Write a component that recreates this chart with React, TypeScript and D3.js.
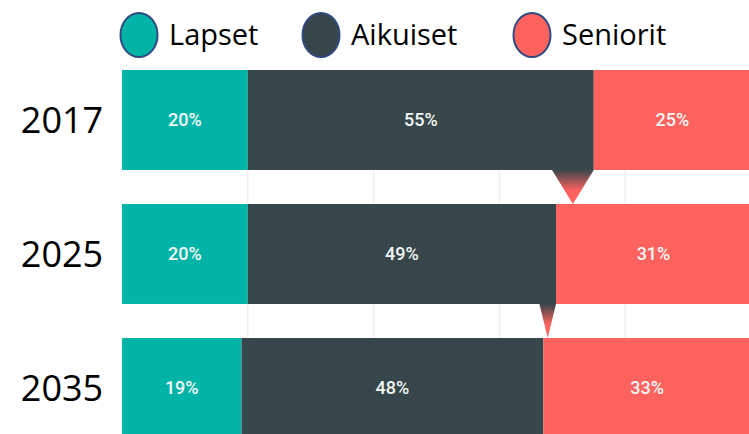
import React from 'react'
import * as d3 from 'd3'

const years = ['2017', '2025', '2035']
const groups = ['Lapset', 'Aikuiset', 'Seniorit']
const lapset = [20, 20, 19]
const aikuiset = [55, 49, 48]
const seniorit = [25, 31, 33]
const gridTicks = [20, 40, 60, 80]
const colors = ['#02b4a7', '#37464a', '#fd625e']

const W = 749
const H = 434

export default function App() {
    const x = d3.scaleLinear().domain([0, 100]).range([122, 751])
    const y = d3
        .scaleBand<string>()
        .domain(years)
        .range([70, 438])
        .paddingInner(0.254)
        .paddingOuter(0)

    const rows = years.map((yr, i) => ({ yr, vals: [lapset[i], aikuiset[i], seniorit[i]] }))
    const stacked = rows.map(r => {
        let acc = 0
        return r.vals.map(v => {
            const s = { x0: acc, x1: acc + v, v }
            acc += v
            return s
        })
    })

    const legendX = [139, 321, 532]

    return (
        <div style={{ position: 'fixed', left: 0, top: 0 }}>
            <svg width={W} height={H} style={{ display: 'block', background: '#fff' }}>
                <defs>
                    <linearGradient id='tri' x1='0' y1='0' x2='0' y2='1'>
                        <stop offset='0' stopColor={colors[1]} />
                        <stop offset='0.6' stopColor={colors[2]} />
                        <stop offset='1' stopColor={colors[2]} />
                    </linearGradient>
                </defs>

                {/* legend */}
                {groups.map((g, i) => (
                    <g key={g}>
                        <ellipse
                            cx={legendX[i]}
                            cy={35}
                            rx={18.5}
                            ry={22}
                            fill={colors[i]}
                            stroke='#2f4a80'
                            strokeWidth={2}
                        />
                        <text
                            x={legendX[i] + 30}
                            y={45}
                            fontFamily="'Open Sans', sans-serif"
                            fontSize={29}
                            fill='#000'
                        >
                            {g}
                        </text>
                    </g>
                ))}

                {/* gridlines */}
                {gridTicks.map(t => (
                    <line
                        key={t}
                        x1={x(t)}
                        x2={x(t)}
                        y1={y.range()[0]}
                        y2={H}
                        stroke='#eeeeee'
                        strokeWidth={1.5}
                    />
                ))}

                {/* bars */}
                {rows.map((r, i) => (
                    <g key={r.yr}>
                        {stacked[i].map((s, j) => (
                            <g key={j}>
                                <rect
                                    x={x(s.x0)}
                                    y={y(r.yr)}
                                    width={x(s.x1) - x(s.x0)}
                                    height={y.bandwidth()}
                                    fill={colors[j]}
                                />
                                <text
                                    x={(x(s.x0) + x(s.x1)) / 2}
                                    y={y(r.yr)! + y.bandwidth() / 2}
                                    dy='0.36em'
                                    textAnchor='middle'
                                    fontFamily='Roboto, sans-serif'
                                    fontWeight={500}
                                    fontSize={18}
                                    fill='#f2f7f6'
                                >
                                    {s.v}%
                                </text>
                            </g>
                        ))}
                        <text
                            x={62}
                            y={y(r.yr)! + y.bandwidth() / 2}
                            dy='0.36em'
                            textAnchor='middle'
                            fontFamily="'Open Sans', sans-serif"
                            fontSize={36}
                            fill='#000'
                        >
                            {r.yr}
                        </text>
                    </g>
                ))}

                {/* change markers between rows */}
                {rows.slice(1).map((r, i) => {
                    const prev = x(stacked[i][1].x1)
                    const next = x(stacked[i + 1][1].x1)
                    const top = y(rows[i].yr)! + y.bandwidth()
                    const bottom = y(r.yr)!
                    const left = Math.min(prev, next) - 4
                    const right = Math.max(prev, next)
                    const path = d3.path()
                    path.moveTo(left, top)
                    path.lineTo(right, top)
                    path.lineTo((left + right) / 2, bottom)
                    path.closePath()
                    return <path key={r.yr} d={path.toString()} fill='url(#tri)' />
                })}
            </svg>
        </div>
    )
}
